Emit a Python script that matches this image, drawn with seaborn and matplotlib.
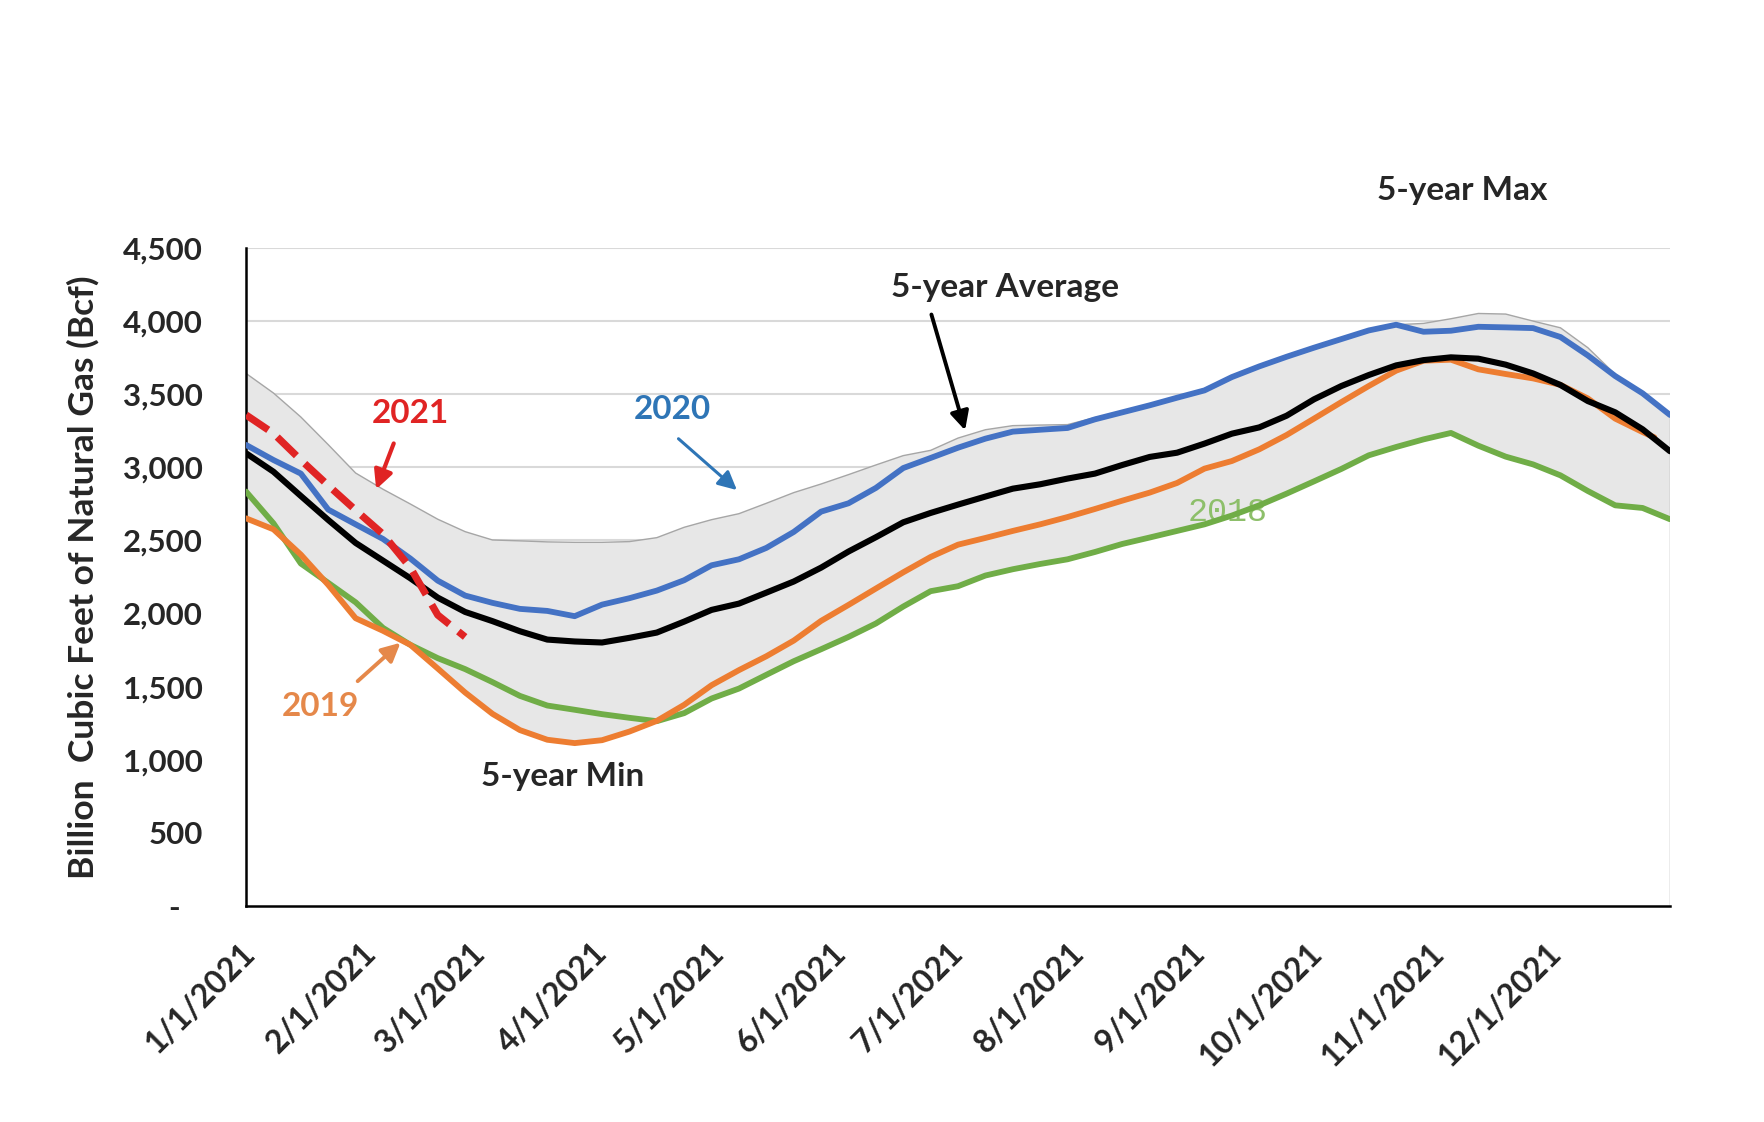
import numpy as np
import pandas as pd
import matplotlib
matplotlib.use('Agg')
import matplotlib.pyplot as plt
import matplotlib.dates as mdates
from matplotlib.transforms import ScaledTranslation
import seaborn as sns

# weekly storage readings (Bcf), 1/1/2021 .. 12/31/2021
dates = pd.date_range('2021-01-01', periods=53, freq='7D')

max5 = [3642, 3508, 3344, 3155, 2961, 2850, 2749, 2645, 2560, 2503, 2497, 2490, 2487, 2487, 2492, 2519, 2590, 2642,
        2683, 2754, 2827, 2886, 2950, 3016, 3080, 3116, 3200, 3257, 3285, 3289, 3292, 3340, 3378, 3424, 3478, 3538,
        3620, 3690, 3756, 3818, 3877, 3938, 3975, 3984, 4016, 4052, 4048, 4000, 3954, 3818, 3636, 3510, 3362]
min5 = [2651, 2576, 2342, 2196, 1968, 1882, 1786, 1624, 1460, 1314, 1203, 1137, 1114, 1134, 1193, 1264, 1319, 1419,
        1487, 1581, 1674, 1756, 1840, 1932, 2048, 2153, 2187, 2260, 2303, 2339, 2371, 2421, 2476, 2520, 2565, 2610,
        2670, 2740, 2820, 2904, 2989, 3082, 3139, 3191, 3235, 3148, 3073, 3020, 2945, 2838, 2740, 2722, 2645]
avg5 = [3096, 2970, 2804, 2640, 2483, 2362, 2241, 2109, 2011, 1948, 1879, 1822, 1809, 1802, 1834, 1870, 1945, 2025,
        2068, 2143, 2219, 2314, 2424, 2522, 2624, 2688, 2745, 2800, 2854, 2884, 2923, 2957, 3016, 3071, 3100, 3162,
        3230, 3273, 3353, 3465, 3556, 3631, 3697, 3733, 3752, 3743, 3702, 3642, 3563, 3453, 3376, 3260, 3110]
y2020 = [3153, 3050, 2957, 2711, 2610, 2510, 2376, 2225, 2123, 2073, 2032, 2018, 1982, 2061, 2105, 2157, 2228, 2330,
         2371, 2449, 2558, 2697, 2754, 2859, 2995, 3064, 3134, 3196, 3244, 3257, 3269, 3328, 3376, 3424, 3476, 3526,
         3617, 3690, 3756, 3818, 3877, 3936, 3975, 3927, 3934, 3961, 3957, 3952, 3891, 3765, 3624, 3506, 3358]
# 2019 line stops a few days before year end
y2019 = [2651, 2576, 2403, 2196, 1968, 1882, 1786, 1624, 1460, 1314, 1203, 1137, 1114, 1134, 1193, 1266, 1376, 1510,
         1613, 1708, 1815, 1950, 2059, 2171, 2282, 2387, 2471, 2517, 2565, 2610, 2660, 2715, 2772, 2827, 2893, 2991,
         3043, 3123, 3221, 3333, 3446, 3556, 3661, 3729, 3736, 3670, 3638, 3608, 3564, 3471, 3333, 3241, 3205]
dates_2019 = list(dates[:-1]) + [pd.Timestamp('2021-12-27')]
y2018 = [2834, 2617, 2342, 2210, 2077, 1902, 1786, 1695, 1620, 1531, 1437, 1371, 1342, 1312, 1287, 1264, 1319, 1419,
         1487, 1581, 1674, 1756, 1840, 1932, 2048, 2153, 2187, 2260, 2303, 2339, 2371, 2421, 2476, 2520, 2565, 2610,
         2670, 2740, 2820, 2904, 2989, 3082, 3139, 3191, 3235, 3148, 3073, 3020, 2945, 2838, 2740, 2722, 2645]
dates_2021 = dates[:9]
y2021 = [3358, 3232, 3050, 2876, 2707, 2543, 2314, 1990, 1840]

tick_dates = pd.to_datetime(['2021-%02d-01' % m for m in range(1, 13)] + ['2021-12-31'])
tick_labels = ['%d/1/2021' % m for m in range(1, 13)] + ['']
y_ticks = [0, 500, 1000, 1500, 2000, 2500, 3000, 3500, 4000, 4500]
y_labels = ['-   '] + ['{:,}'.format(v) for v in y_ticks[1:]]

sns.set_style('white')
plt.rcParams['font.family'] = ['Lato', 'DejaVu Sans']

fig = plt.figure(figsize=(17.64, 11.22), dpi=100)
ax = fig.add_axes([0.1395, 0.1925, 0.8072, 0.5865])
ax.set_axisbelow(True)
ax.yaxis.grid(True, color='#d9d9d9', lw=1.5)

# 5-year range band
ax.fill_between(dates, 0, max5, facecolor='#e7e7e7', edgecolor='none', zorder=1)
ax.plot(dates, max5, color='#a6a6a6', lw=1, zorder=1.5)
ax.fill_between(dates, 0, min5, facecolor='white', edgecolor='none', zorder=1.2)
ax.vlines(dates[-1], 0, max5[-1], color='#a6a6a6', lw=1, zorder=1.5)

sns.lineplot(x=dates, y=y2018, color='#70ad47', lw=4.2, ax=ax, zorder=3)
sns.lineplot(x=dates_2019, y=y2019, color='#ed7d31', lw=4.2, ax=ax, zorder=3.1)
sns.lineplot(x=dates, y=avg5, color='black', lw=4.4, ax=ax, zorder=3.2)
sns.lineplot(x=dates, y=y2020, color='#4472c4', lw=4.2, ax=ax, zorder=3.3)
sns.lineplot(x=dates_2021, y=y2021, color='#e02424', lw=5.2, linestyle='--', ax=ax, zorder=3.4)

ax.set_xlim(dates[0], dates[-1])
ax.set_ylim(0, 4500)
ax.set_xticks(tick_dates)
ax.set_xticklabels(tick_labels, rotation=45, ha='right', va='center', rotation_mode='anchor',
                   fontsize=23, fontweight='bold')
ax.set_yticks(y_ticks)
ax.set_yticklabels(y_labels, fontsize=22.5, fontweight='bold')
ax.tick_params(axis='both', direction='inout', length=16, width=1.5, color='black')
ax.tick_params(axis='x', pad=22)
ax.tick_params(axis='y', pad=23)
ax.set_xlabel('')
ax.set_ylabel('Billion  Cubic Feet of Natural Gas (Bcf)', fontsize=25.5, fontweight='bold')
ax.yaxis.set_label_coords(-0.103, 0.5)

shift = ScaledTranslation(4 / 100, 0, fig.dpi_scale_trans)
for lbl in ax.get_xticklabels():
    lbl.set_transform(lbl.get_transform() + shift)

for s in ['top', 'right']:
    ax.spines[s].set_visible(False)
for s in ['left', 'bottom']:
    ax.spines[s].set_color('black')
    ax.spines[s].set_linewidth(1.8)

d = mdates.date2num
ax.text(d(pd.Timestamp('2021-11-08')), 4890, '5-year Max', ha='center', va='center',
        fontsize=24, fontweight='bold', clip_on=False)
ax.text(d(pd.Timestamp('2021-07-14')), 4227, '5-year Average', ha='center', va='center',
        fontsize=24, fontweight='bold')
ax.annotate('', xy=(d(pd.Timestamp('2021-07-04')), 3235), xytext=(d(pd.Timestamp('2021-06-25')), 4063),
            arrowprops=dict(arrowstyle='-|>', color='black', lw=2.8, mutation_scale=28))
ax.text(d(pd.Timestamp('2021-02-12')), 3365, '2021', ha='center', va='center',
        fontsize=24, fontweight='bold', color='#e02424')
ax.annotate('', xy=(d(pd.Timestamp('2021-02-03')), 2832), xytext=(d(pd.Timestamp('2021-02-08')), 3181),
            arrowprops=dict(arrowstyle='-|>', color='#e02424', lw=3, mutation_scale=28))
ax.text(d(pd.Timestamp('2021-04-20')), 3393, '2020', ha='center', va='center',
        fontsize=24, fontweight='bold', color='#2e75b6')
ax.annotate('', xy=(d(pd.Timestamp('2021-05-07')), 2832), xytext=(d(pd.Timestamp('2021-04-21')), 3208),
            arrowprops=dict(arrowstyle='-|>', color='#2e75b6', lw=2.2, mutation_scale=28))
ax.text(d(pd.Timestamp('2021-01-20')), 1361, '2019', ha='center', va='center',
        fontsize=24, fontweight='bold', color='#e5884a')
ax.annotate('', xy=(d(pd.Timestamp('2021-02-10')), 1813), xytext=(d(pd.Timestamp('2021-01-29')), 1525),
            arrowprops=dict(arrowstyle='-|>', color='#e5884a', lw=2.8, mutation_scale=28))
ax.text(d(pd.Timestamp('2021-09-09')), 2688, '2018', ha='center', va='center',
        fontsize=24, color='#8dbf6a', family='Liberation Mono', zorder=2.5)
ax.text(d(pd.Timestamp('2021-03-23')), 889, '5-year Min', ha='center', va='center',
        fontsize=24, fontweight='bold')

fig.savefig('out.png', dpi=100)
